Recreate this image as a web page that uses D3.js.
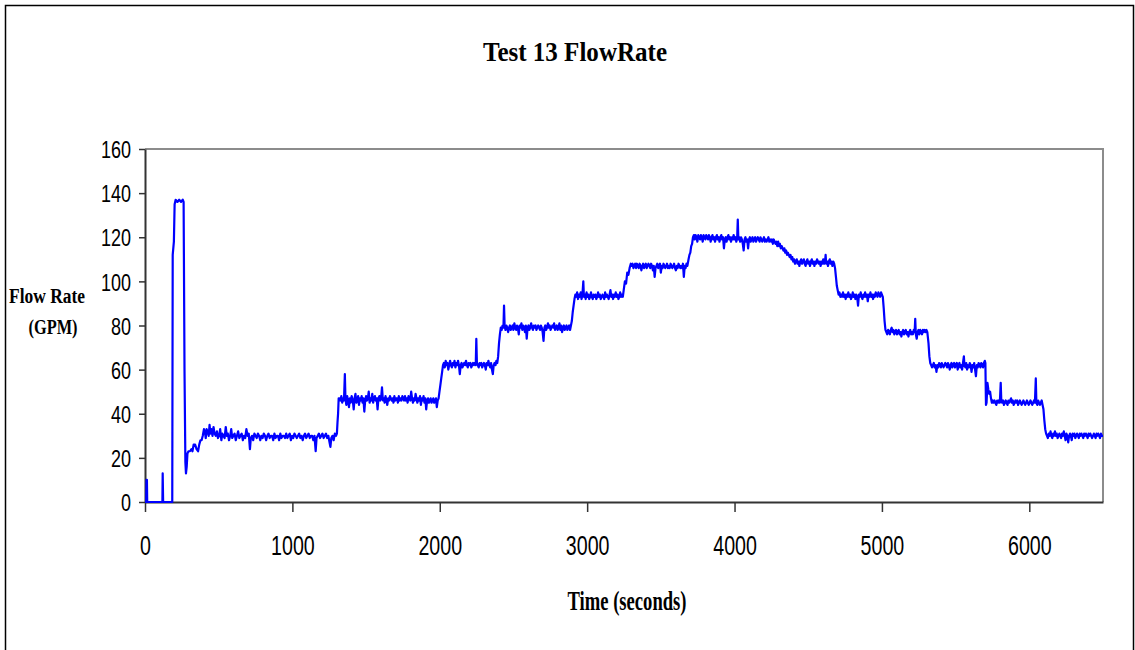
<!DOCTYPE html>
<html>
<head>
<meta charset="utf-8">
<script src="https://cdn.jsdelivr.net/npm/d3@7"></script>
<style>
  html, body { margin: 0; padding: 0; background: #fff; }
  svg { display: block; }
</style>
</head>
<body>
<svg id="chart" width="1135" height="650"></svg>
<script>
// ---- Data (time in seconds, flow rate in GPM) ----
const chartTitle = "Test 13 FlowRate";
const xTitle = "Time (seconds)";
const yTitleLines = ["Flow Rate", "(GPM)"];
const xTicks = [0, 1000, 2000, 3000, 4000, 5000, 6000];
const yTicks = [0, 20, 40, 60, 80, 100, 120, 140, 160];
const xDomain = [0, 6500];
const yDomain = [0, 160];

const startup = [[0,0],[8,0],[10,10],[13,10],[15,0],[118,0],[120,13],[123,0],[185,0],[188,112],[196,118],[201,135],[208,137],[220,136],[232,137],[245,136],[256,137],[262,136],[268,60],[274,18],[278,13],[283,16],[288,22]];

const level30 = [[295,23],[305,23],[315,24],[322,23],[330,26],[340,26],[350,24],[360,23],[368,26],[376,28],[384,28],[392,30],[400,33],[406,32],[412,29],[418,33],[425,32],[432,30],[438,35],[444,31],[450,33],[458,30],[465,34],[472,31],[480,30],[488,32],[495,29],[503,30],[510,33],[518,28],[525,31],[532,30],[540,29],[548,34],[555,30],[562,31],[570,28],[578,30],[585,33],[592,29],[600,30],[608,31],[616,28],[624,30],[632,32],[640,29],[648,30],[656,31],[664,28],[672,30],[680,29],[688,33],[696,30],[704,31],[712,24],[718,29],[726,30],[734,28],[742,31],[750,30],[758,29],[766,31],[774,30],[782,28],[790,30],[798,29],[806,31],[814,30],[822,28],[830,30],[838,31],[846,29],[854,30],[862,30],[870,28],[878,31],[886,29],[894,30],[902,30],[910,28],[918,31],[926,29],[934,30],[942,30],[950,29],[958,31],[966,29],[974,30],[982,31],[990,28],[998,30],[1006,29],[1014,31],[1022,30],[1030,29],[1038,30],[1046,31],[1054,29],[1062,30],[1070,28],[1078,30],[1086,31],[1094,29],[1102,30],[1110,31],[1118,29],[1126,30],[1134,30],[1142,28],[1150,30],[1158,23],[1164,29],[1172,30],[1180,31],[1188,29],[1196,30],[1204,31],[1212,29],[1220,30],[1228,31],[1236,29],[1244,30],[1252,27],[1258,25],[1264,29],[1272,30],[1280,28],[1288,31],[1296,30]];

const level47 = [[1302,31],[1306,36],[1310,40],[1314,47],[1320,47],[1326,46],[1332,48],[1338,45],[1344,47],[1350,46],[1356,58],[1360,47],[1366,44],[1372,48],[1378,46],[1384,43],[1390,47],[1396,45],[1402,48],[1410,46],[1416,42],[1422,47],[1428,49],[1434,45],[1440,46],[1446,48],[1452,44],[1458,47],[1464,46],[1470,48],[1476,45],[1482,47],[1488,41],[1494,46],[1500,48],[1506,46],[1512,47],[1518,50],[1524,45],[1530,47],[1536,46],[1542,49],[1548,45],[1554,47],[1560,48],[1566,46],[1572,47],[1578,42],[1584,47],[1590,48],[1596,46],[1602,47],[1608,52],[1614,46],[1620,47],[1626,45],[1632,48],[1638,46],[1644,44],[1650,47],[1656,46],[1662,48],[1668,47],[1674,46],[1680,47],[1686,45],[1692,48],[1698,46],[1704,47],[1710,47],[1716,45],[1722,48],[1728,46],[1734,47],[1740,46],[1746,48],[1752,47],[1758,46],[1764,48],[1770,46],[1776,47],[1782,45],[1788,48],[1794,47],[1800,46],[1806,50],[1812,47],[1818,45],[1824,47],[1830,46],[1836,49],[1842,47],[1848,45],[1854,47],[1860,46],[1866,48],[1872,44],[1878,47],[1884,46],[1890,48],[1896,45],[1902,47],[1908,42],[1914,46],[1920,47],[1926,45],[1932,46],[1938,47],[1944,45],[1950,46],[1956,47],[1962,45],[1968,46],[1974,47],[1980,43],[1986,46]];

const level62 = [[1992,47],[1998,50],[2004,53],[2010,56],[2016,59],[2022,62],[2028,63],[2034,61],[2040,64],[2046,62],[2052,63],[2058,60],[2064,62],[2070,64],[2076,62],[2082,61],[2088,63],[2094,62],[2100,64],[2106,61],[2112,63],[2118,62],[2124,64],[2130,62],[2136,58],[2142,62],[2148,63],[2154,61],[2160,62],[2166,63],[2172,62],[2178,64],[2184,62],[2190,61],[2196,63],[2202,62],[2208,63],[2214,61],[2220,62],[2226,63],[2232,62],[2238,63],[2244,62],[2248,74],[2252,63],[2258,62],[2264,61],[2270,63],[2276,62],[2282,63],[2288,61],[2294,62],[2300,63],[2306,62],[2312,60],[2318,63],[2324,62],[2330,64],[2336,62],[2342,61],[2348,63],[2354,60],[2360,58],[2366,62],[2372,63],[2378,62],[2384,64],[2390,63]];

const level79 = [[2396,66],[2402,72],[2408,76],[2414,79],[2420,78],[2426,80],[2432,79],[2436,89],[2440,80],[2446,78],[2452,80],[2458,79],[2464,77],[2470,79],[2476,80],[2482,78],[2488,79],[2494,80],[2500,78],[2506,81],[2512,79],[2518,78],[2524,80],[2530,79],[2536,76],[2542,80],[2548,79],[2554,81],[2560,78],[2566,80],[2572,79],[2578,77],[2584,80],[2590,74],[2596,79],[2602,80],[2608,78],[2614,79],[2620,81],[2626,79],[2632,78],[2638,80],[2644,79],[2650,80],[2656,78],[2662,79],[2668,80],[2674,79],[2680,78],[2686,80],[2692,79],[2698,77],[2704,73],[2710,79],[2716,80],[2722,78],[2728,79],[2734,81],[2740,79],[2746,80],[2752,78],[2758,79],[2764,80],[2770,79],[2776,81],[2782,78],[2788,79],[2794,80],[2800,78],[2806,79],[2812,81],[2818,78],[2824,80],[2830,77],[2836,79],[2842,80],[2848,78],[2854,79],[2860,80],[2866,78],[2872,79],[2878,80],[2884,78],[2890,80]];

const level93 = [[2896,82],[2902,86],[2908,89],[2914,92],[2920,94],[2926,93],[2932,95],[2938,92],[2944,94],[2950,93],[2956,95],[2962,92],[2968,94],[2974,100],[2978,93],[2984,94],[2990,92],[2996,95],[3002,93],[3008,94],[3014,92],[3020,93],[3026,95],[3032,93],[3038,92],[3044,94],[3050,93],[3056,94],[3062,92],[3068,93],[3074,95],[3080,93],[3086,94],[3092,92],[3098,93],[3104,94],[3110,93],[3116,92],[3122,95],[3128,93],[3134,94],[3140,93],[3146,92],[3152,94],[3158,96],[3164,93],[3170,94],[3176,92],[3182,94],[3188,93],[3194,95],[3200,93],[3206,94],[3212,92],[3218,93],[3224,95],[3230,93],[3236,94],[3242,93]];

const level107 = [[3248,96],[3256,100],[3264,99],[3272,104],[3280,103],[3288,106],[3296,108],[3302,107],[3308,108],[3314,106],[3320,107],[3326,108],[3332,106],[3338,108],[3344,107],[3350,106],[3356,108],[3362,107],[3368,105],[3374,107],[3380,108],[3386,106],[3392,107],[3398,108],[3404,106],[3410,107],[3416,108],[3422,107],[3428,106],[3434,108],[3440,107],[3446,105],[3452,107],[3458,102],[3464,106],[3470,107],[3476,108],[3482,106],[3488,107],[3494,108],[3500,104],[3506,107],[3512,106],[3518,108],[3524,107],[3530,106],[3536,107],[3542,108],[3548,106],[3554,107],[3560,106],[3566,108],[3572,107],[3578,106],[3584,107],[3590,108],[3596,106],[3602,105],[3608,107],[3614,106],[3620,108],[3626,107],[3632,106],[3638,107],[3644,106],[3650,108],[3656,102],[3662,107],[3668,106],[3674,108],[3680,107]];

const level120 = [[3688,110],[3694,112],[3700,113],[3706,116],[3712,117],[3718,120],[3724,121],[3730,119],[3736,121],[3742,120],[3748,118],[3754,121],[3760,120],[3766,119],[3772,121],[3778,120],[3784,118],[3790,121],[3796,120],[3802,119],[3808,121],[3814,120],[3820,119],[3826,121],[3832,120],[3838,118],[3844,120],[3850,121],[3856,119],[3862,120],[3868,118],[3874,120],[3880,121],[3886,119],[3892,120],[3898,118],[3904,120],[3910,121],[3916,119],[3922,120],[3928,115],[3934,119],[3940,120],[3946,118],[3952,120],[3958,121],[3964,119],[3970,120],[3976,118],[3982,120],[3988,119],[3994,121],[4000,119],[4006,120],[4012,118],[4018,120],[4022,128],[4026,119],[4032,120],[4038,118],[4044,120],[4050,119],[4056,117],[4062,114],[4068,119],[4074,120],[4080,118],[4086,119],[4092,115],[4098,119],[4104,120],[4110,118],[4116,119],[4122,120],[4128,118],[4134,119],[4140,120],[4146,118],[4152,119],[4158,120],[4164,119],[4170,118],[4176,120],[4182,119],[4188,118],[4194,119],[4200,120],[4206,118],[4212,119],[4218,118],[4224,119],[4230,120],[4236,118],[4242,119],[4248,118],[4254,119],[4260,117],[4266,119],[4272,118],[4278,117],[4284,118],[4290,116],[4296,118],[4302,116],[4308,117],[4314,115],[4320,116]];

const level109 = [[4326,115],[4332,114],[4338,115],[4344,113],[4350,114],[4356,112],[4362,113],[4368,112],[4374,111],[4380,112],[4386,110],[4392,111],[4398,109],[4404,110],[4410,108],[4416,109],[4422,110],[4428,108],[4434,109],[4440,107],[4446,109],[4452,110],[4458,108],[4464,109],[4470,110],[4476,108],[4482,107],[4488,109],[4494,110],[4500,108],[4506,109],[4512,107],[4518,109],[4524,110],[4530,108],[4536,109],[4542,107],[4548,109],[4554,108],[4560,110],[4566,109],[4572,108],[4578,109],[4584,107],[4590,109],[4596,108],[4602,110],[4608,108],[4614,109],[4618,112],[4622,108],[4628,109],[4634,107],[4640,109],[4646,110],[4652,108],[4658,109],[4664,107],[4670,109],[4676,108]];

const level93b = [[4682,106],[4688,102],[4694,98],[4700,96],[4706,94],[4712,95],[4718,93],[4724,94],[4730,93],[4736,95],[4742,93],[4748,94],[4754,92],[4760,94],[4766,93],[4772,95],[4778,93],[4784,94],[4790,92],[4796,93],[4802,95],[4808,93],[4814,94],[4820,92],[4826,94],[4832,93],[4838,89],[4844,94],[4850,93],[4856,95],[4862,93],[4868,92],[4874,94],[4880,93],[4886,95],[4892,93],[4898,94],[4904,91],[4910,94],[4916,93],[4922,95],[4928,93],[4934,94],[4940,92],[4946,94],[4952,93],[4958,95],[4964,94],[4970,93],[4976,95],[4982,94],[4988,93],[4994,95],[5000,94],[5006,93]];

const level77 = [[5012,88],[5018,82],[5024,78],[5030,77],[5036,76],[5042,78],[5048,77],[5054,76],[5060,78],[5066,79],[5072,77],[5078,78],[5084,76],[5090,77],[5096,78],[5102,76],[5108,77],[5114,78],[5120,76],[5126,77],[5132,75],[5138,77],[5144,78],[5150,76],[5156,77],[5162,78],[5168,76],[5174,77],[5180,75],[5186,77],[5192,78],[5198,76],[5204,77],[5210,76],[5216,78],[5222,77],[5226,83],[5230,76],[5236,74],[5242,77],[5248,78],[5254,76],[5260,78],[5266,77],[5272,76],[5278,78],[5284,77],[5290,78],[5296,77],[5302,78],[5308,77]];

const level62b = [[5316,72],[5322,66],[5328,63],[5334,62],[5340,61],[5346,62],[5352,63],[5358,61],[5364,62],[5370,59],[5376,62],[5382,61],[5388,63],[5394,62],[5400,61],[5406,63],[5412,62],[5418,61],[5424,62],[5430,63],[5436,62],[5442,61],[5448,63],[5454,62],[5460,60],[5466,62],[5472,63],[5478,61],[5484,62],[5490,63],[5496,61],[5502,62],[5508,63],[5514,60],[5520,62],[5526,63],[5532,61],[5538,62],[5544,60],[5550,63],[5556,66],[5560,62],[5566,61],[5572,63],[5578,60],[5584,62],[5590,61],[5596,63],[5602,62],[5608,59],[5614,62],[5620,61],[5626,63],[5632,60],[5638,57],[5644,62],[5650,61],[5656,63],[5662,62],[5668,61],[5674,63],[5680,62],[5686,61],[5692,63],[5698,64],[5702,63]];

const level45 = [[5706,44],[5710,45],[5716,54],[5722,51],[5728,49],[5734,50],[5740,47],[5746,45],[5752,46],[5758,45],[5764,46],[5770,45],[5776,44],[5782,46],[5788,45],[5794,46],[5800,45],[5806,54],[5810,46],[5816,45],[5822,46],[5828,44],[5834,45],[5840,46],[5846,45],[5852,44],[5858,46],[5864,45],[5870,46],[5876,47],[5882,45],[5888,46],[5894,44],[5900,45],[5906,46],[5912,45],[5918,46],[5924,44],[5930,45],[5936,46],[5942,45],[5948,44],[5954,45],[5960,46],[5966,45],[5972,44],[5978,45],[5984,46],[5990,45],[5996,44],[6002,45],[6008,46],[6014,45],[6020,44],[6026,45],[6032,46],[6038,45],[6044,56],[6048,45],[6054,44],[6060,46],[6066,45],[6072,44],[6078,45],[6084,46],[6090,44]];

const level31 = [[6096,42],[6102,37],[6108,33],[6114,31],[6120,30],[6126,29],[6132,31],[6138,30],[6144,32],[6150,30],[6156,29],[6162,31],[6168,30],[6174,32],[6180,30],[6186,31],[6192,29],[6198,30],[6204,31],[6210,30],[6216,29],[6222,31],[6228,30],[6234,32],[6240,30],[6246,28],[6252,31],[6258,30],[6264,27],[6270,30],[6276,31],[6282,30],[6288,28],[6294,31],[6300,30],[6306,31],[6312,29],[6318,30],[6324,31],[6330,30],[6336,29],[6342,31],[6348,30],[6354,31],[6360,30],[6366,29],[6372,31],[6378,30],[6384,31],[6390,30],[6396,29],[6402,31],[6408,30],[6414,31],[6420,30],[6426,29],[6432,30],[6438,31],[6444,30],[6450,29],[6456,31],[6462,30],[6468,31],[6474,30],[6480,29],[6486,31],[6492,30],[6500,30]];

const readings = [].concat(startup, level30, level47, level62, level79, level93,
  level107, level120, level109, level93b, level77, level62b, level45, level31);

// ---- Layout ----
const svg = d3.select("#chart");
const plot = { left: 145, right: 1103, top: 149, bottom: 502 };

const x = d3.scaleLinear().domain(xDomain).range([plot.left, plot.right]);
const y = d3.scaleLinear().domain(yDomain).range([plot.bottom, plot.top]);

// condense text horizontally (the reference uses narrow glyphs)
function condense(sel, ratio) {
  sel.each(function () {
    const w = this.getComputedTextLength();
    d3.select(this).attr("textLength", w * ratio).attr("lengthAdjust", "spacingAndGlyphs");
  });
}

// outer border
svg.append("rect")
  .attr("x", 5.5).attr("y", 5.5)
  .attr("width", 1128).attr("height", 700)
  .attr("fill", "none").attr("stroke", "#000").attr("stroke-width", 1.5);

// plot frame (top & right, gray)
svg.append("path")
  .attr("d", `M${plot.left},${plot.top}H${plot.right}V${plot.bottom}`)
  .attr("fill", "none").attr("stroke", "#8c8c8c").attr("stroke-width", 2);

// y axis
const yAxis = svg.append("g")
  .attr("transform", `translate(${plot.left},0)`)
  .call(d3.axisLeft(y).tickValues(yTicks).tickFormat(d3.format("d")).tickSize(6).tickSizeOuter(0));
yAxis.select(".domain").attr("stroke", "#333").attr("stroke-width", 2);
yAxis.selectAll(".tick line").attr("stroke", "#333").attr("stroke-width", 1.5);
yAxis.selectAll(".tick text")
  .attr("font-family", "'Liberation Sans', Arial, sans-serif")
  .attr("font-size", 24)
  .attr("fill", "#000")
  .attr("x", -14)
  .attr("dy", "0.36em")
  .call(condense, 0.75);

// x axis
const xAxis = svg.append("g")
  .attr("transform", `translate(0,${plot.bottom})`)
  .call(d3.axisBottom(x).tickValues(xTicks).tickFormat(d3.format("d")).tickSize(10).tickSizeOuter(0));
xAxis.select(".domain").attr("stroke", "#333").attr("stroke-width", 2);
xAxis.selectAll(".tick line").attr("stroke", "#333").attr("stroke-width", 1.5);
xAxis.selectAll(".tick text")
  .attr("font-family", "'Liberation Sans', Arial, sans-serif")
  .attr("font-size", 28)
  .attr("fill", "#000")
  .attr("y", 53)
  .attr("dy", 0)
  .call(condense, 0.7);

// data line
const line = d3.line().x(d => x(d[0])).y(d => y(d[1]));
svg.append("path")
  .datum(readings)
  .attr("d", line)
  .attr("fill", "none")
  .attr("stroke", "#0000ff")
  .attr("stroke-width", 2.2)
  .attr("stroke-linejoin", "round");

// titles
const serif = "'Liberation Serif', 'Times New Roman', serif";
svg.append("text")
  .attr("x", 575).attr("y", 61)
  .attr("text-anchor", "middle")
  .attr("font-family", serif).attr("font-weight", "bold").attr("font-size", 28)
  .attr("textLength", 184).attr("lengthAdjust", "spacingAndGlyphs")
  .text(chartTitle);

svg.append("text")
  .attr("x", 627).attr("y", 610)
  .attr("text-anchor", "middle")
  .attr("font-family", serif).attr("font-weight", "bold").attr("font-size", 27)
  .attr("textLength", 119).attr("lengthAdjust", "spacingAndGlyphs")
  .text(xTitle);

const yLab = [{t: yTitleLines[0], cx: 47, by: 303, w: 76, fs: 20}, {t: yTitleLines[1], cx: 53, by: 334, w: 49, fs: 22}];
yLab.forEach(l => {
  svg.append("text")
    .attr("x", l.cx).attr("y", l.by)
    .attr("text-anchor", "middle")
    .attr("font-family", serif).attr("font-weight", "bold").attr("font-size", l.fs)
    .attr("textLength", l.w).attr("lengthAdjust", "spacingAndGlyphs")
    .text(l.t);
});
</script>
</body>
</html>
